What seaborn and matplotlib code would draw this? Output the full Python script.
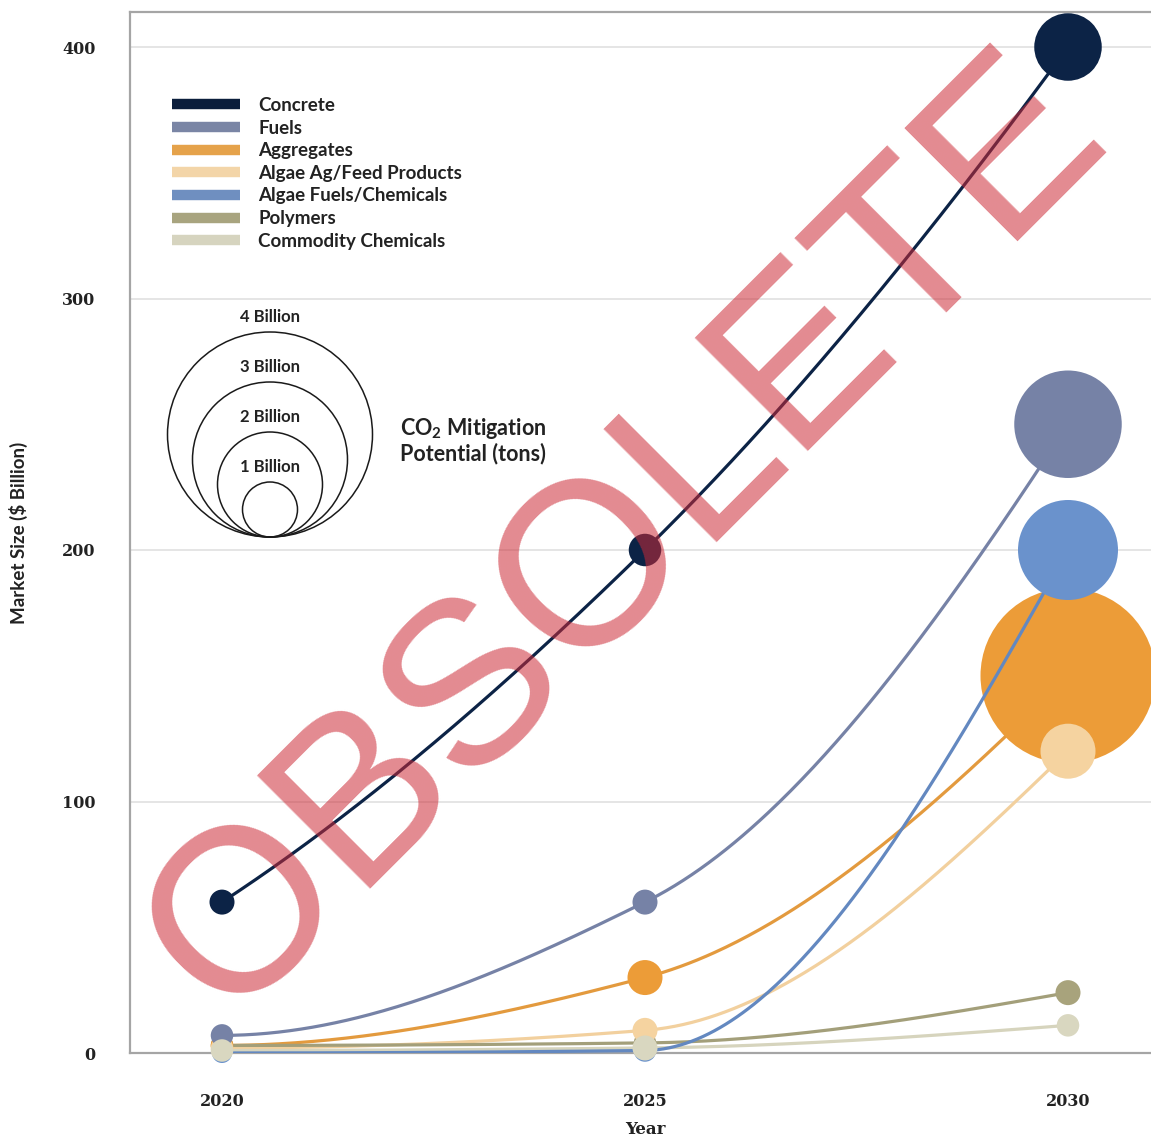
import numpy as np
import pandas as pd
import matplotlib
matplotlib.use("Agg")
import matplotlib.pyplot as plt
import seaborn as sns
from matplotlib.lines import Line2D

# ---------------- data ----------------
years = [2020, 2025, 2030]
series_names = ["Concrete", "Fuels", "Aggregates", "Algae Ag/Feed Products",
                "Algae Fuels/Chemicals", "Polymers", "Commodity Chemicals"]

# market size ($ billion)
concrete = [60, 200, 400]
fuels = [7, 60, 250]
aggregates = [3, 30, 150]
algae_ag = [2, 9, 120]
algae_fuels = [0, 1, 200]
polymers = [3, 4, 24]
commodity = [1, 2, 11]

# CO2 mitigation potential (billion tons)
concrete_co2 = [0.40, 0.55, 1.25]
fuels_co2 = [0.35, 0.40, 2.05]
aggregates_co2 = [0.35, 0.60, 3.40]
algae_ag_co2 = [0.35, 0.40, 1.00]
algae_fuels_co2 = [0.30, 0.35, 1.90]
polymers_co2 = [0.35, 0.35, 0.40]
commodity_co2 = [0.35, 0.40, 0.35]

bubble_colors = ["#0c2346", "#7682a6", "#ec9c38", "#f5d3a0",
                 "#6a92cc", "#a8a37c", "#d9d7c0"]
line_colors = ["#0c2346", "#7682a6", "#e39a3e", "#f2d09e",
               "#6388c0", "#a39f7a", "#d6d4bd"]
legend_colors = ["#0b1e3c", "#7a85a5", "#e5a24a", "#f3d5a8",
                 "#6f8fc0", "#a8a47f", "#d6d4bf"]

size_legend_values = [4, 3, 2, 1]
size_legend_labels = ["4 Billion", "3 Billion", "2 Billion", "1 Billion"]

y_ticks = [0, 100, 200, 300, 400]

# stacking of bubbles and lines (higher is drawn on top)
bubble_z = {"Polymers": 5, "Aggregates": 6, "Algae Ag/Feed Products": 7,
            "Fuels": 8, "Algae Fuels/Chemicals": 9.5, "Commodity Chemicals": 10,
            "Concrete": 11}
line_z = {name: 3 for name in series_names}
line_z["Algae Fuels/Chemicals"] = 9
line_z["Concrete"] = 10.5

values = dict(zip(series_names, [concrete, fuels, aggregates, algae_ag,
                                 algae_fuels, polymers, commodity]))
co2 = dict(zip(series_names, [concrete_co2, fuels_co2, aggregates_co2, algae_ag_co2,
                              algae_fuels_co2, polymers_co2, commodity_co2]))
colors = dict(zip(series_names, bubble_colors))
lcolors = dict(zip(series_names, line_colors))

# ---------------- helpers ----------------
DPI = 100


def radius_px(v):
    """bubble radius in pixels for a CO2 value in billion tons"""
    return 25.0 * np.asarray(v, float) + 2.5


def area_pt2(v):
    d_pt = 2 * radius_px(v) * 72.0 / DPI
    return d_pt ** 2


def pchip(x, y, xs):
    """monotone cubic Hermite curve through the points"""
    x = np.asarray(x, float)
    y = np.asarray(y, float)
    h = np.diff(x)
    delta = np.diff(y) / h
    n = len(x)
    d = np.zeros(n)
    for k in range(1, n - 1):
        if delta[k - 1] * delta[k] > 0:
            w1 = 2 * h[k] + h[k - 1]
            w2 = h[k] + 2 * h[k - 1]
            d[k] = (w1 + w2) / (w1 / delta[k - 1] + w2 / delta[k])

    def end(h0, h1, d0, d1):
        dd = ((2 * h0 + h1) * d0 - h0 * d1) / (h0 + h1)
        if np.sign(dd) != np.sign(d0):
            dd = 0.0
        elif np.sign(d0) != np.sign(d1) and abs(dd) > abs(3 * d0):
            dd = 3 * d0
        return dd

    d[0] = end(h[0], h[1], delta[0], delta[1])
    d[-1] = end(h[-1], h[-2], delta[-1], delta[-2])
    xs = np.asarray(xs, float)
    k = np.clip(np.searchsorted(x, xs) - 1, 0, n - 2)
    t = (xs - x[k]) / h[k]
    h00 = 2 * t**3 - 3 * t**2 + 1
    h10 = t**3 - 2 * t**2 + t
    h01 = -2 * t**3 + 3 * t**2
    h11 = t**3 - t**2
    return h00 * y[k] + h10 * h[k] * d[k] + h01 * y[k + 1] + h11 * h[k] * d[k + 1]


# ---------------- figure ----------------
sns.set_style("white")
serif = ["DejaVu Serif"]
sans = ["Lato", "DejaVu Sans"]
plt.rcParams["font.family"] = serif

W, H = 1151, 1139
fig = plt.figure(figsize=(W / DPI, H / DPI), dpi=DPI)
ax_left, ax_right_px, ax_top_px, ax_bot_px = 130, 1160, 12, 1053
ax_w_px, ax_h_px = ax_right_px - ax_left, ax_bot_px - ax_top_px
ax = fig.add_axes([ax_left / W, 1 - ax_bot_px / H, ax_w_px / W, ax_h_px / H])

px_per_year = (1068 - 222) / 10.0
x0 = 2020 - (222 - ax_left) / px_per_year
x1 = x0 + ax_w_px / px_per_year
px_per_unit = (1053 - 47) / 400.0
y1 = 400 + (47 - ax_top_px) / px_per_unit
ax.set_xlim(x0, x1)
ax.set_ylim(0, y1)

xs_dense = np.linspace(2020, 2030, 300)
for name in series_names:
    curve = pd.DataFrame({"year": xs_dense, "value": pchip(years, values[name], xs_dense)})
    sns.lineplot(data=curve, x="year", y="value", color=lcolors[name], lw=2.3, ax=ax,
                 estimator=None, sort=False, zorder=line_z[name])
    pts = pd.DataFrame({"year": years, "value": values[name]})
    sns.scatterplot(data=pts, x="year", y="value", s=area_pt2(co2[name]), color=colors[name],
                    linewidth=0, ax=ax, zorder=bubble_z[name], clip_on=False, legend=False)

# axes styling
ax.set_yticks(y_ticks)
ax.set_xticks(years)
ax.yaxis.grid(True, color="#e3e3e3", lw=1.3, zorder=0)
ax.xaxis.grid(False)
ax.set_axisbelow(True)
for side in ["top", "left", "bottom"]:
    ax.spines[side].set_color("#a5a5a5")
    ax.spines[side].set_linewidth(1.6)
ax.spines["right"].set_visible(False)
ax.tick_params(axis="y", direction="out", length=22, width=1.2, color="#d6d6d6",
               pad=3, labelsize=11.5)
ax.tick_params(axis="x", direction="out", length=20, width=1.2, color="#e0e0e0",
               pad=9, labelsize=11.5)
for lab in ax.get_xticklabels() + ax.get_yticklabels():
    lab.set_fontweight("bold")
    lab.set_color("#222222")
ax.set_xlabel("Year", fontsize=12, fontweight="bold", color="#222222")
ax.xaxis.set_label_coords(0.5, -(1121 - ax_bot_px) / ax_h_px)
ax.set_ylabel("Market Size (\\$ Billion)", fontsize=13.5, family=sans, fontweight="bold",
              color="#222222")
ax.yaxis.set_label_coords(-(ax_left - 28) / ax_w_px, 0.5)

# series legend
handles = [Line2D([0], [0], color=c, lw=7.5, solid_capstyle="butt") for c in legend_colors]
leg = ax.legend(handles, series_names, loc="upper left",
                bbox_to_anchor=((172 - ax_left) / ax_w_px, (ax_bot_px - 97) / ax_h_px),
                frameon=False, handlelength=3.6, handletextpad=1.0, labelspacing=0.3,
                borderpad=0, borderaxespad=0,
                prop=dict(family=sans, weight="bold", size=13.5))
for t in leg.get_texts():
    t.set_color("#222222")

# CO2 size legend: nested circles sharing a bottom point
cx = 2020 + (270 - 222) / px_per_year
bottom_val = (1053 - 537) / px_per_unit
r_vals = radius_px(size_legend_values)
centers = bottom_val + r_vals / px_per_unit
ax.scatter([cx] * len(size_legend_values), centers, s=area_pt2(size_legend_values),
           facecolors="none", edgecolors="#1a1a1a", linewidths=1.1, zorder=20)
for v, r, lab in zip(size_legend_values, r_vals, size_legend_labels):
    ax.text(cx, bottom_val + (2 * r + 15) / px_per_unit, lab, ha="center", va="center",
            fontsize=12, fontweight="bold", family=sans, color="#222222", zorder=21)
ax.text(2020 + (400 - 222) / px_per_year, (1053 - 440) / px_per_unit,
        "CO$_\\mathregular{2}$ Mitigation\nPotential (tons)", ha="left", va="center",
        fontsize=15.5, fontweight="bold", family=sans, color="#222222",
        linespacing=1.1, zorder=21)

# watermark
fig.text(626 / W, 1 - 537 / H, "OBSOLETE", fontsize=167,
         family=["Liberation Sans", "DejaVu Sans"],
         color="#cc2a36", alpha=0.55, rotation=45, rotation_mode="anchor",
         ha="center", va="center", zorder=100)

fig.savefig("out.png", dpi=DPI, facecolor="white")
